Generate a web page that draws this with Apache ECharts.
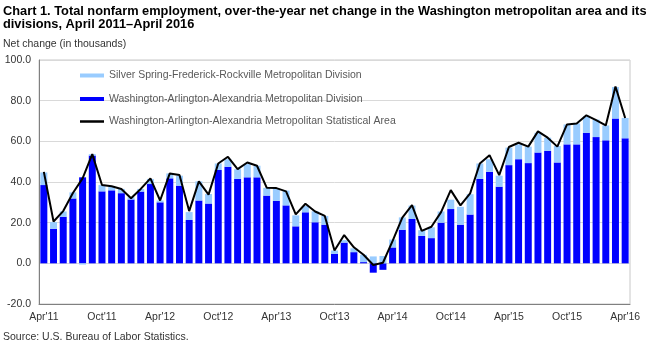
<!DOCTYPE html>
<html>
<head>
<meta charset="utf-8">
<script src="https://cdn.jsdelivr.net/npm/echarts@6/dist/echarts.min.js"></script>
<style>
html,body{margin:0;padding:0;background:#fff;}
#chart{width:651px;height:345px;}
</style>
</head>
<body>
<div id="chart"></div>
<script>
const categories = [
"Apr'11","May'11","Jun'11","Jul'11","Aug'11","Sep'11","Oct'11","Nov'11","Dec'11","Jan'12","Feb'12","Mar'12",
"Apr'12","May'12","Jun'12","Jul'12","Aug'12","Sep'12","Oct'12","Nov'12","Dec'12","Jan'13","Feb'13","Mar'13",
"Apr'13","May'13","Jun'13","Jul'13","Aug'13","Sep'13","Oct'13","Nov'13","Dec'13","Jan'14","Feb'14","Mar'14",
"Apr'14","May'14","Jun'14","Jul'14","Aug'14","Sep'14","Oct'14","Nov'14","Dec'14","Jan'15","Feb'15","Mar'15",
"Apr'15","May'15","Jun'15","Jul'15","Aug'15","Sep'15","Oct'15","Nov'15","Dec'15","Jan'16","Feb'16","Mar'16",
"Apr'16"
];

// Washington-Arlington-Alexandria Metropolitan Division (thousands)
const washingtonDivision = [
38.5,17.0,22.9,31.9,42.3,53.0,35.4,35.9,34.5,31.4,35.3,39.0,
30.0,41.8,38.2,21.3,30.9,29.4,45.9,47.5,41.5,42.3,42.3,33.3,
30.7,28.5,18.2,25.1,20.2,19.0,4.7,10.2,5.5,0.6,-4.6,-3.2,
7.8,16.5,21.8,13.5,12.4,20.0,26.7,19.0,24.0,41.5,45.0,37.7,
48.3,51.2,49.3,54.5,55.3,49.6,58.5,58.5,64.2,62.1,60.5,71.2,
61.5
];

// Silver Spring-Frederick-Rockville Metropolitan Division (thousands)
const silverSpringDivision = [
6.2,3.3,2.6,3.0,-0.6,0.7,3.1,1.8,2.1,1.1,1.3,2.5,
0.9,2.4,4.9,3.9,9.4,4.7,3.2,3.7,4.8,6.5,5.7,3.8,
6.1,7.3,5.4,3.1,5.4,4.3,1.6,1.2,1.9,3.6,3.4,3.6,
3.9,6.1,6.6,2.8,5.3,5.5,4.6,8.8,10.0,7.6,6.2,5.4,
8.6,7.3,8.1,9.7,6.5,8.1,9.8,10.3,8.2,8.6,7.3,15.5,
10.0
];

// Washington-Arlington-Alexandria Metropolitan Statistical Area (thousands)
const metroArea = [
45.0,20.6,25.7,34.6,41.8,53.7,38.5,37.9,36.6,32.0,36.6,41.8,
30.9,44.2,43.4,25.7,40.3,33.8,49.1,52.4,46.3,49.6,48.0,37.2,
37.0,35.4,24.1,29.3,25.5,23.3,6.3,13.9,7.9,4.2,-0.8,0.3,
11.0,22.5,28.6,16.0,18.0,25.2,36.0,28.5,34.4,49.1,53.2,43.4,
57.2,59.3,57.4,64.9,61.8,57.4,68.3,68.8,72.8,70.4,67.8,87.0,
71.5
];

const yTicks = [-20, 0, 20, 40, 60, 80, 100];

const seriesNames = [
  "Silver Spring-Frederick-Rockville Metropolitan Division",
  "Washington-Arlington-Alexandria Metropolitan Division",
  "Washington-Arlington-Alexandria Metropolitan Statistical Area"
];

const FONT = "'Liberation Sans', Arial, sans-serif";
const chart = echarts.init(document.getElementById('chart'), null, {renderer: 'canvas'});

chart.setOption({
  animation: false,
  backgroundColor: '#ffffff',
  textStyle: {fontFamily: FONT},
  title: [
    {
      text: 'Chart 1. Total nonfarm employment, over-the-year net change in the Washington metropolitan area and its\ndivisions, April 2011\u2013April 2016',
      left: 3, top: 5, padding: 0,
      textStyle: {fontFamily: FONT, fontSize: 12.8, fontWeight: 'bold', color: '#000000', lineHeight: 12.8}
    },
    {
      text: 'Net change (in thousands)',
      left: 3, top: 39, padding: 0,
      textStyle: {fontFamily: FONT, fontSize: 10.5, fontWeight: 'normal', color: '#333333'}
    },
    {
      text: 'Source: U.S. Bureau of Labor Statistics.',
      left: 3, top: 332, padding: 0,
      textStyle: {fontFamily: FONT, fontSize: 10.5, fontWeight: 'normal', color: '#333333'}
    }
  ],
  legend: [
    {
      orient: 'vertical',
      left: 80, top: 70, padding: 0,
      itemWidth: 24, itemHeight: 4,
      itemGap: 12.5,
      textStyle: {fontFamily: FONT, fontSize: 10.5, color: '#595959'},
      data: [
        {name: seriesNames[0], icon: 'rect'},
        {name: seriesNames[1], icon: 'rect'}
      ]
    },
    {
      orient: 'vertical',
      left: 80, top: 116, padding: 0,
      itemWidth: 24, itemHeight: 2.5,
      textStyle: {fontFamily: FONT, fontSize: 10.5, color: '#595959'},
      data: [
        {name: seriesNames[2], icon: 'rect', itemStyle: {color: '#000000'}}
      ]
    }
  ],
  grid: {
    left: 39, right: 21, top: 60, bottom: 41,
    show: true, borderColor: '#c8c8c8', borderWidth: 1,
    containLabel: false
  },
  xAxis: {
    type: 'category',
    data: categories,
    axisLine: {onZero: false, lineStyle: {color: '#808080', width: 1}},
    axisTick: {show: false},
    axisLabel: {interval: 5, margin: 8, fontFamily: FONT, fontSize: 10.5, color: '#333333'}
  },
  yAxis: {
    type: 'value',
    min: yTicks[0], max: yTicks[yTicks.length - 1], interval: 20,
    axisLine: {show: true, lineStyle: {color: '#808080', width: 1}},
    axisTick: {show: false},
    splitLine: {lineStyle: {color: '#d9d9d9', width: 1}},
    axisLabel: {margin: 8, fontFamily: FONT, fontSize: 10.5, color: '#333333',
      formatter: v => v.toFixed(1)}
  },
  series: [
    {
      name: seriesNames[1],
      type: 'bar', stack: 'div',
      data: washingtonDivision,
      barCategoryGap: '28%',
      itemStyle: {color: '#0000ff'}
    },
    {
      name: seriesNames[0],
      type: 'bar', stack: 'div',
      data: silverSpringDivision,
      barCategoryGap: '28%',
      itemStyle: {color: '#99ccff'}
    },
    {
      name: seriesNames[2],
      type: 'line',
      data: metroArea,
      symbol: 'none',
      z: 5,
      lineStyle: {color: '#000000', width: 2},
      itemStyle: {color: '#000000'}
    }
  ]
});
</script>
</body>
</html>
